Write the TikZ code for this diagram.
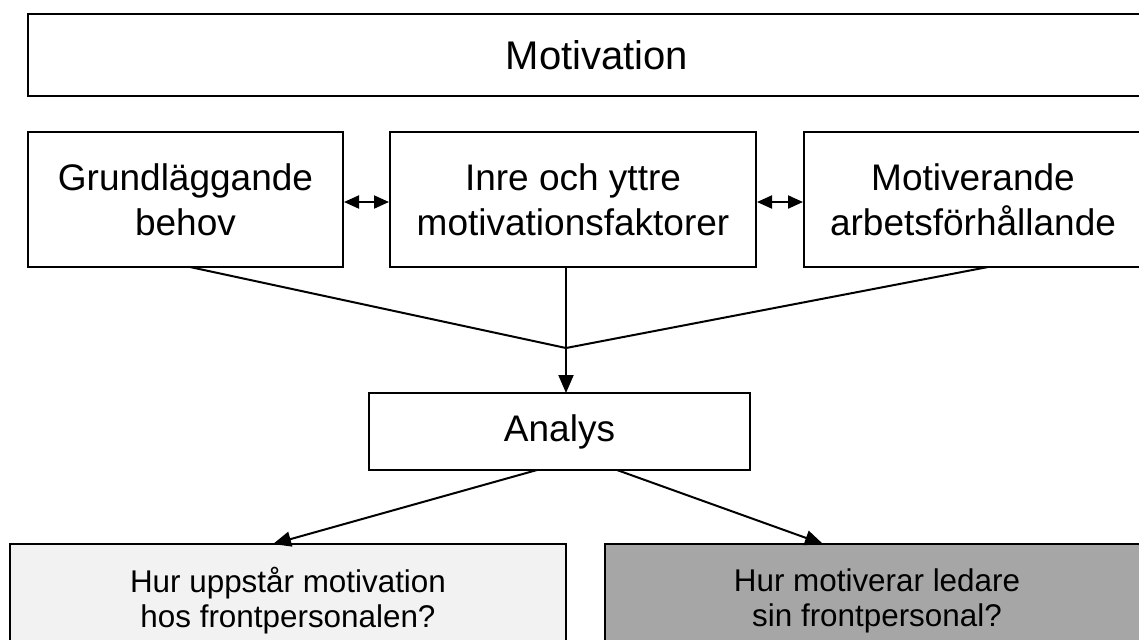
\documentclass[tikz,border=0pt]{standalone}
\usepackage{fontspec}
\setmainfont{Liberation Sans}
\usetikzlibrary{arrows.meta}

\begin{document}
\begin{tikzpicture}[x=0.5pt,y=-0.5pt,>={Triangle[length=9pt,width=7.5pt]},line width=1pt,
    box/.style={draw=black, rectangle, inner sep=0pt, align=center},
    bigtext/.style={font=\fontsize{18.5}{22.5}\selectfont},
    smalltext/.style={font=\fontsize{15.7}{17.5}\selectfont},
    both/.style={{Triangle[length=7.5pt,width=6.5pt]}-{Triangle[length=7.5pt,width=6.5pt]}}]

      % picture frame, the boxes run past the right and bottom edge
      \clip (0,0) rectangle (1139,639);

      % title
      \node [box, font=\fontsize{20}{24}\selectfont, minimum width=569pt, minimum height=41pt, name=title] at (597,55) {Motivation};

      % row of factors
      \node [box, bigtext, minimum width=157.5pt, minimum height=67.5pt, name=grund] at (185.5,199.5) {Grundläggande\\behov};
      \node [box, bigtext, minimum width=183pt, minimum height=67.5pt, name=inre] at (573,199.5) {Inre och yttre\\motivationsfaktorer};
      \node [box, bigtext, minimum width=169pt, minimum height=67.5pt, name=arbete] at (973,199.5) {Motiverande\\arbetsförhållande};

      % analysis
      \node [box, bigtext, minimum width=190.5pt, minimum height=38.5pt, name=analys] at (559.5,431.5) {Analys};

      % questions
      \node [box, smalltext, fill={rgb,255:red,242;green,242;blue,242}, minimum width=278pt, minimum height=57pt, name=uppstar] at (288,601) {Hur uppstår motivation\\hos frontpersonalen?};
      \node [box, smalltext, fill={rgb,255:red,166;green,166;blue,166}, minimum width=272pt, minimum height=57pt, name=ledare] at (877,601) {Hur motiverar ledare\\sin frontpersonal?};

      % points where the lines meet
      \coordinate (junction) at (566,348);
      \coordinate (grund_out) at (190,267);
      \coordinate (inre_out) at (566,267);
      \coordinate (arbete_out) at (988,267);
      \coordinate (analys_in) at (566,393);
      \coordinate (analys_left) at (537,470);
      \coordinate (analys_right) at (617,470);
      \coordinate (uppstar_in) at (273,544);
      \coordinate (ledare_in) at (823,544);

      % connections
      \draw [both] ([yshift=-1.25pt]grund.east) -- ([yshift=-1.25pt]inre.west);
      \draw [both] ([yshift=-1.25pt]inre.east) -- ([yshift=-1.25pt]arbete.west);
      \draw (grund_out) -- (junction) -- (arbete_out);
      \draw [->] (inre_out) -- (analys_in);
      \draw [->] (analys_left) -- (uppstar_in);
      \draw [->] (analys_right) -- (ledare_in);

\end{tikzpicture}
\end{document}
